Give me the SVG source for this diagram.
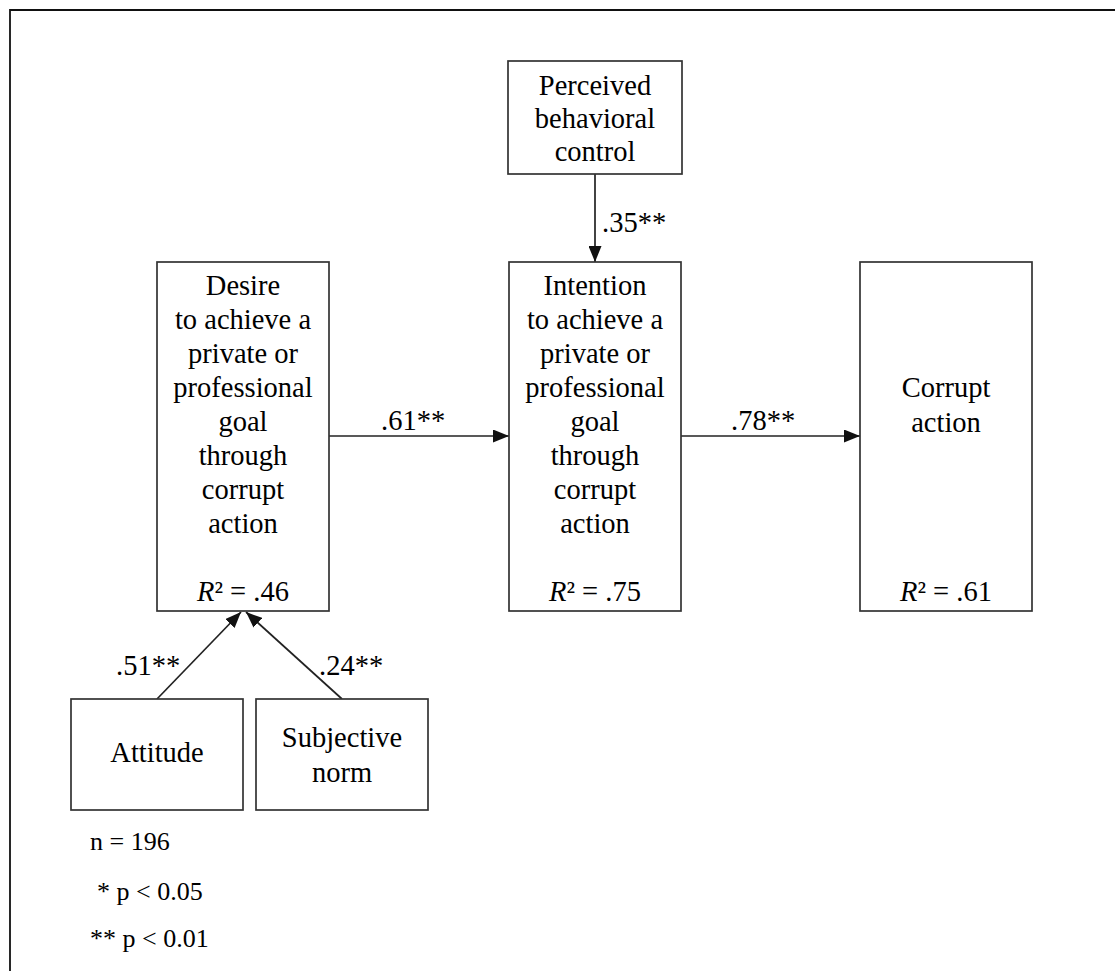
<svg xmlns="http://www.w3.org/2000/svg" width="1115" height="971" viewBox="0 0 1115 971">
  <style>
    .box { fill: #fff; stroke: #333; stroke-width: 1.7; }
    .frame { fill: none; stroke: #111; stroke-width: 1.8; }
    .edge { stroke: #222; stroke-width: 1.7; fill: none; marker-end: url(#arrow); }
    text { font-family: "Liberation Serif", "Times New Roman", serif; font-size: 28.5px; fill: #000; }
    .c { text-anchor: middle; }
    .legend { font-size: 26px; }
  </style>
  <defs>
    <marker id="arrow" viewBox="0 0 16 13" refX="16" refY="6.5" markerWidth="16" markerHeight="13" markerUnits="userSpaceOnUse" orient="auto">
      <path d="M0,0 L16,6.5 L0,13 Z" fill="#111"/>
    </marker>
  </defs>

  <rect width="1115" height="971" fill="#fff"/>
  <!-- outer frame, open on the right and bottom -->
  <path class="frame" d="M10,971 L10,10 L1115,10"/>

  <g id="connectors">
    <line class="edge" x1="595" y1="174" x2="595" y2="262"/>
    <line class="edge" x1="329" y1="436" x2="509" y2="436"/>
    <line class="edge" x1="681" y1="436" x2="860" y2="436"/>
    <line class="edge" x1="157" y1="699" x2="241" y2="612"/>
    <line class="edge" x1="342" y1="699" x2="246" y2="612"/>
    <text x="602" y="232">.35**</text>
    <text x="381" y="430">.61**</text>
    <text x="731" y="430">.78**</text>
    <text x="116" y="675">.51**</text>
    <text x="319" y="675">.24**</text>
  </g>

  <g id="pbc">
    <rect class="box" x="508" y="61" width="174" height="113"/>
    <text class="c" x="595" y="95">Perceived</text>
    <text class="c" x="595" y="128">behavioral</text>
    <text class="c" x="595" y="161">control</text>
  </g>

  <g id="desire">
    <rect class="box" x="157" y="262" width="172" height="349"/>
    <text class="c" x="243" y="295">Desire</text>
    <text class="c" x="243" y="329">to achieve a</text>
    <text class="c" x="243" y="363">private or</text>
    <text class="c" x="243" y="397">professional</text>
    <text class="c" x="243" y="431">goal</text>
    <text class="c" x="243" y="465">through</text>
    <text class="c" x="243" y="499">corrupt</text>
    <text class="c" x="243" y="533">action</text>
    <text class="c" x="243" y="601"><tspan font-style="italic">R</tspan>² = .46</text>
  </g>

  <g id="intention">
    <rect class="box" x="509" y="262" width="172" height="349"/>
    <text class="c" x="595" y="295">Intention</text>
    <text class="c" x="595" y="329">to achieve a</text>
    <text class="c" x="595" y="363">private or</text>
    <text class="c" x="595" y="397">professional</text>
    <text class="c" x="595" y="431">goal</text>
    <text class="c" x="595" y="465">through</text>
    <text class="c" x="595" y="499">corrupt</text>
    <text class="c" x="595" y="533">action</text>
    <text class="c" x="595" y="601"><tspan font-style="italic">R</tspan>² = .75</text>
  </g>

  <g id="corrupt-action">
    <rect class="box" x="860" y="262" width="172" height="349"/>
    <text class="c" x="946" y="397">Corrupt</text>
    <text class="c" x="946" y="432">action</text>
    <text class="c" x="946" y="601"><tspan font-style="italic">R</tspan>² = .61</text>
  </g>

  <g id="attitude">
    <rect class="box" x="71" y="699" width="172" height="111"/>
    <text class="c" x="157" y="762">Attitude</text>
  </g>

  <g id="subjective-norm">
    <rect class="box" x="256" y="699" width="172" height="111"/>
    <text class="c" x="342" y="747">Subjective</text>
    <text class="c" x="342" y="782">norm</text>
  </g>

  <g id="legend">
    <text class="legend" x="90" y="850">n = 196</text>
    <text class="legend" x="97" y="900">* p &lt; 0.05</text>
    <text class="legend" x="90" y="947">** p &lt; 0.01</text>
  </g>
</svg>
